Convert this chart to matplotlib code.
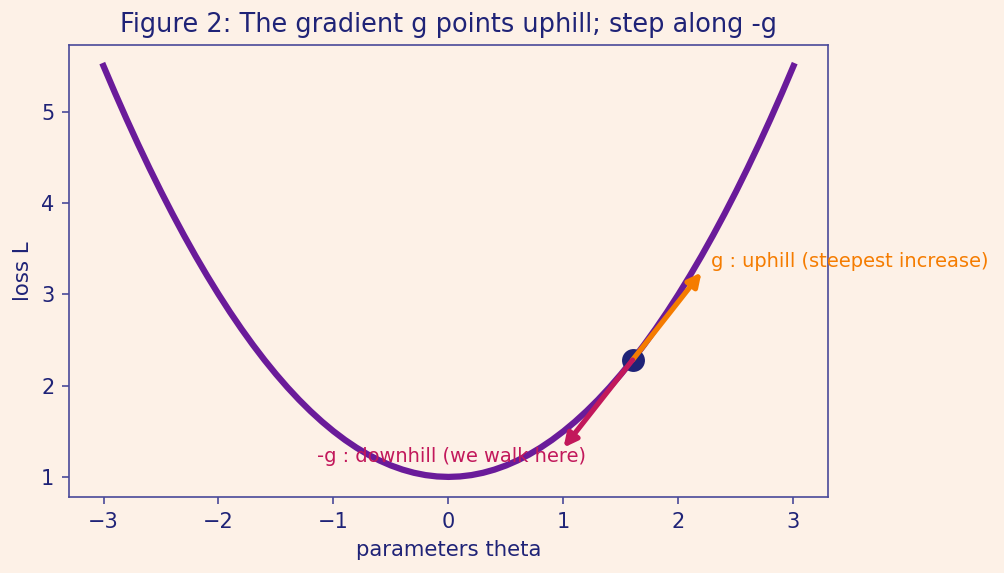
import numpy as np
import matplotlib
matplotlib.use('Agg')
import matplotlib.pyplot as plt

# curve samples
theta = [-3.0, -2.9, -2.8, -2.7, -2.6, -2.5, -2.4, -2.3, -2.2, -2.1, -2.0, -1.9, -1.8, -1.7, -1.6,
         -1.5, -1.4, -1.3, -1.2, -1.1, -1.0, -0.9, -0.8, -0.7, -0.6, -0.5, -0.4, -0.3, -0.2, -0.1,
         0.0, 0.1, 0.2, 0.3, 0.4, 0.5, 0.6, 0.7, 0.8, 0.9, 1.0, 1.1, 1.2, 1.3, 1.4, 1.5,
         1.6, 1.7, 1.8, 1.9, 2.0, 2.1, 2.2, 2.3, 2.4, 2.5, 2.6, 2.7, 2.8, 2.9, 3.0]
loss = [5.5, 5.205, 4.92, 4.645, 4.38, 4.125, 3.88, 3.645, 3.42, 3.205, 3.0, 2.805, 2.62, 2.445, 2.28,
        2.125, 1.98, 1.845, 1.72, 1.605, 1.5, 1.405, 1.32, 1.245, 1.18, 1.125, 1.08, 1.045, 1.02, 1.005,
        1.0, 1.005, 1.02, 1.045, 1.08, 1.125, 1.18, 1.245, 1.32, 1.405, 1.5, 1.605, 1.72, 1.845, 1.98, 2.125,
        2.28, 2.445, 2.62, 2.805, 3.0, 3.205, 3.42, 3.645, 3.88, 4.125, 4.38, 4.645, 4.92, 5.205, 5.5]

point = (1.6, 2.28)
grad_step = (0.6, 0.96)

bg = '#fdf1e7'
navy = '#1f2377'
purple = '#6a1b9a'
orange = '#f57c00'
magenta = '#c2185b'

fig = plt.figure(figsize=(1004 / 150, 573 / 150), dpi=150, facecolor=bg)
ax = fig.add_axes([69 / 1004, 1 - 497 / 573, (828 - 69) / 1004, (497 - 45) / 573])
ax.set_facecolor(bg)

ax.plot(theta, loss, color=purple, linewidth=3.0, zorder=2, solid_joinstyle='round')
ax.scatter([point[0]], [point[1]], s=100, color=navy, zorder=3)

ax.annotate('', xy=(point[0] + grad_step[0], point[1] + grad_step[1]), xytext=point,
            arrowprops=dict(arrowstyle='-|>', color=orange, lw=2.5, mutation_scale=13,
                            shrinkA=0, shrinkB=0), zorder=4)
ax.annotate('', xy=(point[0] - grad_step[0], point[1] - grad_step[1]), xytext=point,
            arrowprops=dict(arrowstyle='-|>', color=magenta, lw=2.5, mutation_scale=13,
                            shrinkA=0, shrinkB=0), zorder=4)

ax.text(2.28, 3.36, 'g : uphill (steepest increase)', color=orange, fontsize=9.3,
        ha='left', va='center', zorder=5)
ax.text(1.2, 1.22, '-g : downhill (we walk here)', color=magenta, fontsize=9.3,
        ha='right', va='center', zorder=5)

ax.set_xlim(-3.3, 3.3)
ax.set_ylim(0.78, 5.73)
ax.set_xticks([-3, -2, -1, 0, 1, 2, 3])
ax.set_yticks([1, 2, 3, 4, 5])

for s in ax.spines.values():
    s.set_color('#4a4a9a')
ax.tick_params(colors='#4a4a9a', labelcolor=navy, labelsize=10)

ax.set_xlabel('parameters theta', color=navy, fontsize=10.2)
ax.set_ylabel('loss L', color=navy, fontsize=10.2)
ax.set_title('Figure 2: The gradient g points uphill; step along -g', color=navy, fontsize=12.3)

fig.savefig('out.png', dpi=150, facecolor=bg)
